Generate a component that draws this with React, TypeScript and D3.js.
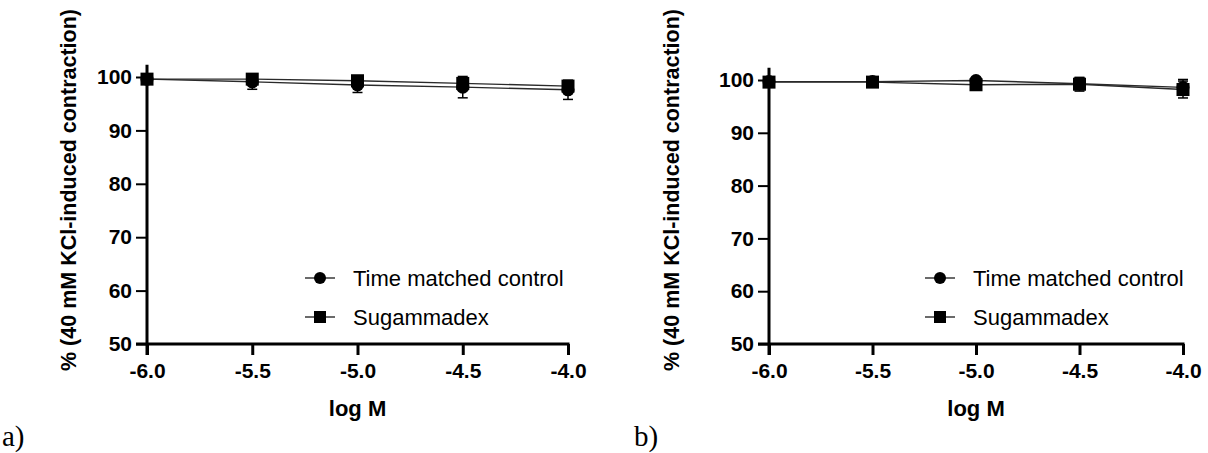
import React, { useEffect, useRef } from "react";
import * as d3 from "d3";

const logM = [-6.0, -5.5, -5.0, -4.5, -4.0];
const xTicks = [-6.0, -5.5, -5.0, -4.5, -4.0];
const yTicks = [50, 60, 70, 80, 90, 100];

// panel a)
const controlA = [99.6, 99.1, 98.5, 98.1, 97.6];
const controlErrA = [0.4, 1.4, 1.4, 2.0, 1.8];
const sugA = [99.6, 99.6, 99.3, 98.8, 98.3];
const sugErrA = [0.3, 0.5, 0.6, 0.6, 0.7];

// panel b)
const controlB = [99.7, 99.7, 99.9, 99.3, 98.6];
const controlErrB = [0.4, 0.4, 0.5, 1.1, 1.5];
const sugB = [99.6, 99.6, 99.1, 99.2, 98.2];
const sugErrB = [0.3, 0.4, 0.6, 1.3, 1.6];

const seriesNames = ["Time matched control", "Sugammadex"];

const FONT = "'Liberation Sans', Arial, Helvetica, sans-serif";

const panels = [
  { tag: "a)", tagX: 2, x0: 147, x1: 568, y100: 77, y50: 344, labelX: 69, legX: 320, control: controlA, controlErr: controlErrA, sug: sugA, sugErr: sugErrA },
  { tag: "b)", tagX: 634, x0: 769, x1: 1183, y100: 80, y50: 344, labelX: 672, legX: 940, control: controlB, controlErr: controlErrB, sug: sugB, sugErr: sugErrB },
];

export default function App() {
  const svgRef = useRef(null);

  useEffect(() => {
    const svg = d3.select(svgRef.current);
    svg.selectAll("*").remove();

    panels.forEach((p) => {
      const g = svg.append("g");
      const x = d3.scaleLinear().domain([-6, -4]).range([p.x0, p.x1]);
      const y = d3.scaleLinear().domain([50, 100]).range([p.y50, p.y100]);

      // y axis
      const yAxis = g
        .append("g")
        .attr("transform", `translate(${p.x0},0)`)
        .call(d3.axisLeft(y).tickValues(yTicks).tickSize(11).tickPadding(4).tickSizeOuter(0));
      yAxis.select(".domain").remove();
      yAxis.selectAll(".tick line").attr("stroke", "#000").attr("stroke-width", 2);
      yAxis
        .selectAll(".tick text")
        .attr("font-family", FONT)
        .attr("font-size", 21)
        .attr("font-weight", "bold")
        .attr("fill", "#000");
      g.append("line")
        .attr("x1", p.x0)
        .attr("x2", p.x0)
        .attr("y1", y(102.3))
        .attr("y2", y(50) + 11)
        .attr("stroke", "#000")
        .attr("stroke-width", 3);

      // x axis
      const xAxis = g
        .append("g")
        .attr("transform", `translate(0,${p.y50})`)
        .call(
          d3
            .axisBottom(x)
            .tickValues(xTicks)
            .tickFormat(d3.format(".1f"))
            .tickSize(11)
            .tickPadding(8)
            .tickSizeOuter(0)
        );
      xAxis.select(".domain").remove();
      xAxis.selectAll(".tick line").attr("stroke", "#000").attr("stroke-width", 3);
      xAxis
        .selectAll(".tick text")
        .attr("font-family", FONT)
        .attr("font-size", 21)
        .attr("font-weight", "bold")
        .attr("fill", "#000")
        .text((d) => d3.format(".1f")(d).replace("−", "-"));
      g.append("line")
        .attr("x1", p.x0 - 11)
        .attr("x2", p.x1 + 1.5)
        .attr("y1", p.y50)
        .attr("y2", p.y50)
        .attr("stroke", "#000")
        .attr("stroke-width", 3);

      // axis titles
      g.append("text")
        .attr("x", (p.x0 + p.x1) / 2)
        .attr("y", 416)
        .attr("text-anchor", "middle")
        .attr("font-family", FONT)
        .attr("font-size", 22)
        .attr("font-weight", "bold")
        .text("log M");
      g.append("text")
        .attr("transform", `translate(${p.labelX + 7},190) rotate(-90)`)
        .attr("text-anchor", "middle")
        .attr("font-family", FONT)
        .attr("font-size", 21.5)
        .attr("font-weight", "bold")
        .text("% (40 mM KCl-induced contraction)");

      // panel tag
      g.append("text")
        .attr("x", p.tagX)
        .attr("y", 446)
        .attr("font-family", "'Liberation Serif', 'Times New Roman', serif")
        .attr("font-size", 29)
        .text(p.tag);

      const series = [
        { vals: p.control, errs: p.controlErr, shape: "circle" },
        { vals: p.sug, errs: p.sugErr, shape: "square" },
      ];

      const line = d3
        .line<number>()
        .x((d, i) => x(logM[i]))
        .y((d) => y(d));

      series.forEach((s) => {
        g.append("path")
          .datum(s.vals)
          .attr("fill", "none")
          .attr("stroke", "#2a2a2a")
          .attr("stroke-width", 1.4)
          .attr("d", line);
      });

      series.forEach((s) => {
        const eb = g.append("g");
        s.vals.forEach((v, i) => {
          const cx = x(logM[i]);
          const lo = y(v - s.errs[i]);
          const hi = y(v + s.errs[i]);
          eb.append("line").attr("x1", cx).attr("x2", cx).attr("y1", lo).attr("y2", hi).attr("stroke", "#000").attr("stroke-width", 1.5);
          [lo, hi].forEach((yy) =>
            eb.append("line").attr("x1", cx - 5).attr("x2", cx + 5).attr("y1", yy).attr("y2", yy).attr("stroke", "#000").attr("stroke-width", 1.5)
          );
        });
      });

      series.forEach((s) => {
        s.vals.forEach((v, i) => {
          const cx = x(logM[i]);
          const cy = y(v);
          if (s.shape === "circle") {
            g.append("circle").attr("cx", cx).attr("cy", cy).attr("r", 6.5).attr("fill", "#000");
          } else {
            g.append("rect").attr("x", cx - 6.5).attr("y", cy - 6.5).attr("width", 13).attr("height", 13).attr("fill", "#000");
          }
        });
      });

      // legend
      const legRows = [278, 317];
      series.forEach((s, i) => {
        const ly = legRows[i];
        const lx = p.legX;
        g.append("line").attr("x1", lx - 15).attr("x2", lx + 15).attr("y1", ly).attr("y2", ly).attr("stroke", "#2a2a2a").attr("stroke-width", 1.4);
        if (s.shape === "circle") {
          g.append("circle").attr("cx", lx).attr("cy", ly).attr("r", 6).attr("fill", "#000");
        } else {
          g.append("rect").attr("x", lx - 6).attr("y", ly - 6).attr("width", 12).attr("height", 12).attr("fill", "#000");
        }
        g.append("text")
          .attr("x", lx + 33)
          .attr("y", ly + 8)
          .attr("font-family", FONT)
          .attr("font-size", 22)
          .attr("fill", "#000")
          .text(seriesNames[i]);
      });
    });
  }, []);

  return (
    <div style={{ position: "absolute", left: 0, top: 0, width: 1208, height: 453, background: "#fff" }}>
      <svg ref={svgRef} width={1208} height={453}></svg>
    </div>
  );
}
